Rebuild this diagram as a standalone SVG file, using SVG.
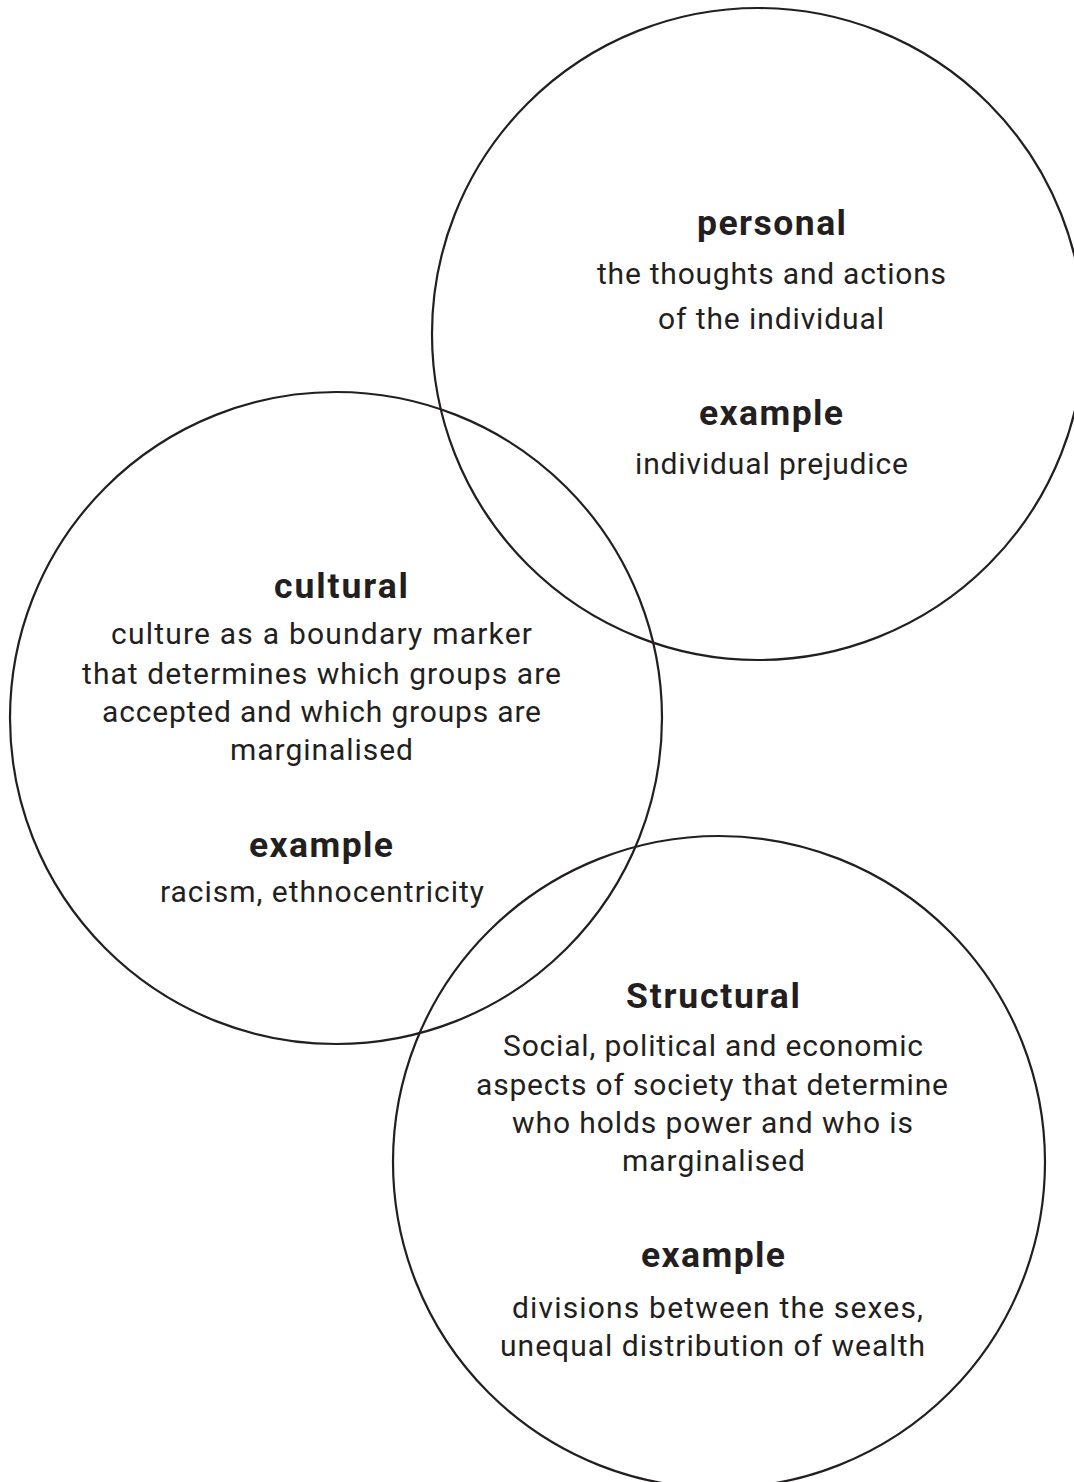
<svg xmlns="http://www.w3.org/2000/svg" width="1074" height="1482" viewBox="0 0 1074 1482">
  <style>
    .ring { fill: none; stroke: #231f20; stroke-width: 2.2; }
    .head { font-family: Roboto, "Liberation Sans", sans-serif; font-weight: 700; font-size: 35.5px; fill: #231f20; }
    .body { font-family: Roboto, "Liberation Sans", sans-serif; font-weight: 400; font-size: 30px; fill: #231f20; }
  </style>
  <rect width="1074" height="1482" fill="#ffffff"/>

  <!-- personal -->
  <g id="personal">
    <circle class="ring" cx="758" cy="334" r="326"/>
    <text class="head" x="697" y="235" textLength="149" lengthAdjust="spacing">personal</text>
    <text class="body" x="597" y="284" textLength="349" lengthAdjust="spacing">the thoughts and actions</text>
    <text class="body" x="658" y="329" textLength="226" lengthAdjust="spacing">of the individual</text>
    <text class="head" x="699" y="425" textLength="144" lengthAdjust="spacing">example</text>
    <text class="body" x="635" y="474" textLength="273" lengthAdjust="spacing">individual prejudice</text>
  </g>

  <!-- cultural -->
  <g id="cultural">
    <circle class="ring" cx="336" cy="718" r="326"/>
    <text class="head" x="274" y="598" textLength="134" lengthAdjust="spacing">cultural</text>
    <text class="body" x="111" y="644" textLength="421" lengthAdjust="spacing">culture as a boundary marker</text>
    <text class="body" x="82" y="684" textLength="479" lengthAdjust="spacing">that determines which groups are</text>
    <text class="body" x="102" y="722" textLength="439" lengthAdjust="spacing">accepted and which groups are</text>
    <text class="body" x="230" y="760" textLength="183" lengthAdjust="spacing">marginalised</text>
    <text class="head" x="249" y="857" textLength="144" lengthAdjust="spacing">example</text>
    <text class="body" x="160" y="902" textLength="324" lengthAdjust="spacing">racism, ethnocentricity</text>
  </g>

  <!-- structural -->
  <g id="structural">
    <circle class="ring" cx="719" cy="1162" r="326"/>
    <text class="head" x="626" y="1008" textLength="174" lengthAdjust="spacing">Structural</text>
    <text class="body" x="503" y="1056" textLength="420" lengthAdjust="spacing">Social, political and economic</text>
    <text class="body" x="476" y="1095" textLength="472" lengthAdjust="spacing">aspects of society that determine</text>
    <text class="body" x="512" y="1133" textLength="401" lengthAdjust="spacing">who holds power and who is</text>
    <text class="body" x="622" y="1171" textLength="183" lengthAdjust="spacing">marginalised</text>
    <text class="head" x="641" y="1267" textLength="144" lengthAdjust="spacing">example</text>
    <text class="body" x="512" y="1318" textLength="411" lengthAdjust="spacing">divisions between the sexes,</text>
    <text class="body" x="500" y="1356" textLength="425" lengthAdjust="spacing">unequal distribution of wealth</text>
  </g>
</svg>
